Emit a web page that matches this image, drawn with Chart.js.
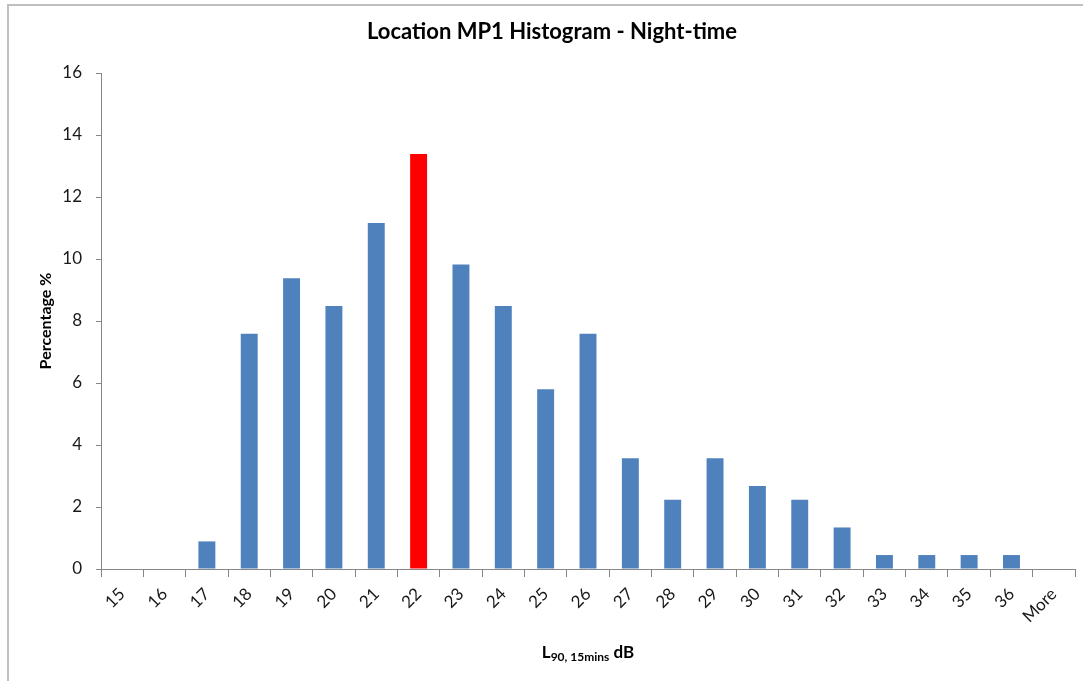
<!DOCTYPE html>
<html>
<head>
<meta charset="utf-8">
<script src="https://cdn.jsdelivr.net/npm/chart.js@4/dist/chart.umd.min.js"></script>
<style>
  html, body { margin: 0; padding: 0; background: #fff; overflow: hidden; width: 1083px; height: 681px; }
  #frame { position: absolute; left: 7px; top: 4px; width: 1100px; height: 700px; border: 2px solid #c0c0c0; box-sizing: border-box; }
  #c { position: absolute; left: 0; top: 0; }
</style>
</head>
<body>
<div id="frame"></div>
<canvas id="c" width="1083" height="681"></canvas>
<script>
const categories = ['15','16','17','18','19','20','21','22','23','24','25','26','27','28','29','30','31','32','33','34','35','36','More'];
const percentages = [0, 0, 0.89, 7.59, 9.38, 8.48, 11.16, 13.39, 9.82, 8.48, 5.80, 7.59, 3.57, 2.23, 3.57, 2.68, 2.23, 1.34, 0.45, 0.45, 0.45, 0.45, 0];
const highlightCategory = '22';
const yTicks = [0, 2, 4, 6, 8, 10, 12, 14, 16];
const chartTitle = 'Location MP1 Histogram - Night-time';
const yTitle = 'Percentage %';
const xTitleMain = 'L';
const xTitleSub = '90, 15mins';
const xTitleTail = ' dB';

const FONT = 'Lato, "Open Sans", sans-serif';
const AXIS = '#868686';
const BLUE = '#4F81BD';
const RED = '#FF0000';

const barColors = categories.map(c => c === highlightCategory ? RED : BLUE);

const xTitlePlugin = {
  id: 'xTitle',
  afterDraw(chart) {
    const ctx = chart.ctx;
    const area = chart.chartArea;
    ctx.save();
    ctx.fillStyle = '#000';
    ctx.textBaseline = 'alphabetic';
    const big = 'bold 17px ' + FONT;
    const small = 'bold 12px ' + FONT;
    ctx.font = big; const w1 = ctx.measureText(xTitleMain).width;
    ctx.font = small; const w2 = ctx.measureText(xTitleSub).width;
    ctx.font = big; const w3 = ctx.measureText(xTitleTail).width;
    const total = w1 + w2 + w3;
    let x = (area.left + area.right) / 2 - total / 2;
    const y = 658;
    ctx.textAlign = 'left';
    ctx.font = big; ctx.fillText(xTitleMain, x, y); x += w1;
    ctx.font = small; ctx.fillText(xTitleSub, x, y + 3); x += w2;
    ctx.font = big; ctx.fillText(xTitleTail, x, y);
    ctx.restore();
  }
};

new Chart(document.getElementById('c'), {
  type: 'bar',
  data: {
    labels: categories,
    datasets: [{
      data: percentages,
      backgroundColor: barColors,
      borderWidth: 0,
      barPercentage: 0.4,
      categoryPercentage: 1.0
    }]
  },
  options: {
    responsive: false,
    animation: false,
    devicePixelRatio: 1,
    layout: { padding: { left: 29, right: 8, top: 0, bottom: 0 } },
    plugins: {
      legend: { display: false },
      tooltip: { enabled: false },
      title: {
        display: true,
        text: chartTitle,
        color: '#000',
        font: { family: FONT, size: 22, weight: 'bold' },
        padding: { top: 19, bottom: 27.6 }
      }
    },
    scales: {
      x: {
        grid: { drawOnChartArea: false, drawTicks: true, tickLength: 8, color: AXIS, offset: true },
        border: { display: true, color: AXIS, width: 1 },
        ticks: {
          color: '#1a1a1a',
          font: { family: FONT, size: 17 },
          maxRotation: 45, minRotation: 45,
          padding: 7,
          autoSkip: false
        },
        afterFit(scale) { scale.height = 112; }
      },
      y: {
        min: 0, max: 16,
        afterBuildTicks(scale) { scale.ticks = yTicks.map(v => ({ value: v })); },
        grid: { drawOnChartArea: false, drawTicks: true, tickLength: 5, color: AXIS },
        border: { display: true, color: AXIS, width: 1 },
        ticks: {
          color: '#1a1a1a',
          font: { family: FONT, size: 17 },
          padding: 14
        },
        title: {
          display: true,
          text: yTitle,
          color: '#000',
          font: { family: FONT, size: 16, weight: 'bold' },
          padding: { top: 7, bottom: 0 }
        },
        afterFit(scale) { scale.width = 72; }
      }
    }
  },
  plugins: [xTitlePlugin]
});
</script>
</body>
</html>
